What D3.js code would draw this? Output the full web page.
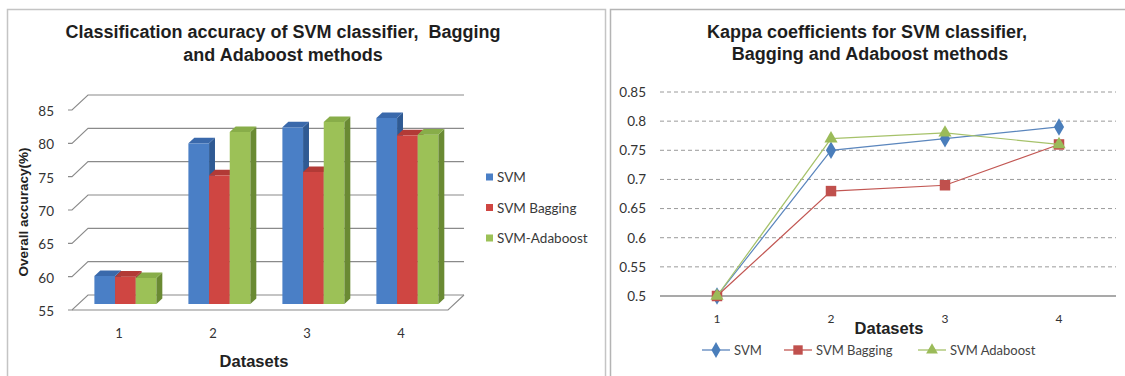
<!DOCTYPE html>
<html>
<head>
<meta charset="utf-8">
<script src="https://cdn.jsdelivr.net/npm/d3@7/dist/d3.min.js"></script>
<style>
  html, body { margin: 0; padding: 0; background: #fff; }
  svg { display: block; }
  text { font-family: Lato, "Liberation Sans", sans-serif; }
  .title { font-family: "Liberation Sans", Arial, sans-serif; font-weight: bold; font-size: 18px; fill: #1e1e1e; }
  .axisTitle { font-family: "Liberation Sans", Arial, sans-serif; font-weight: bold; fill: #222; }
</style>
</head>
<body>
<svg id="chart" width="1125" height="376"></svg>
<script>
// Datasets shown on both charts
const categories = ["1", "2", "3", "4"];

// Overall accuracy (%) per dataset
const accSVM       = [59.2, 79.1, 81.5, 82.9];
const accBagging   = [59.1, 74.3, 74.8, 80.3];
const accAdaboost  = [58.9, 80.8, 82.3, 80.4];
const accTicks     = [55, 60, 65, 70, 75, 80, 85];
const accSeriesNames = ["SVM", "SVM Bagging", "SVM-Adaboost"];

// Kappa coefficients per dataset
const kappaSVM      = [0.5, 0.75, 0.77, 0.79];
const kappaBagging  = [0.5, 0.68, 0.69, 0.76];
const kappaAdaboost = [0.5, 0.77, 0.78, 0.76];
const kappaTicks    = [0.5, 0.55, 0.6, 0.65, 0.7, 0.75, 0.8, 0.85];
const kappaSeriesNames = ["SVM", "SVM Bagging", "SVM Adaboost"];

const svg = d3.select("#chart");

// ---------- panel frames ----------
svg.append("rect").attr("x", 7.5).attr("y", 9.5).attr("width", 598).attr("height", 380)
  .attr("fill", "#fff").attr("stroke", "#c4c4c4").attr("stroke-width", 1.5);
svg.append("rect").attr("x", 610.5).attr("y", 9.5).attr("width", 530).attr("height", 380)
  .attr("fill", "#fff").attr("stroke", "#b4b4b4").attr("stroke-width", 1.5);

// =====================================================================
// Left: 3-D clustered columns of overall accuracy
// =====================================================================
const L = svg.append("g");
const depth = { dx: 16, dy: -15 };          // oblique offset of the back wall
const barFront = 0.40, barBack = 0.77;      // depth fractions occupied by bars

const yAcc = d3.scaleLinear().domain([55, 85]).range([310, 110]);
const xAcc = d3.scaleBand().domain(categories).range([72, 448]);

L.append("text").attr("class", "title").attr("x", 283).attr("y", 38)
  .attr("text-anchor", "middle").attr("xml:space", "preserve")
  .text("Classification accuracy of SVM classifier,  Bagging");
L.append("text").attr("class", "title").attr("x", 283).attr("y", 61)
  .attr("text-anchor", "middle").text("and Adaboost methods");

// back-wall gridlines with their slanted side-wall segments
const x0 = xAcc.range()[0], x1 = xAcc.range()[1];
accTicks.forEach(t => {
  const yf = yAcc(t);
  L.append("path")
    .attr("d", `M${x0 - 4},${yf} L${x0},${yf} L${x0 + depth.dx},${yf + depth.dy} L${x1 + depth.dx},${yf + depth.dy}`)
    .attr("fill", "none").attr("stroke", "#8a8a8a").attr("stroke-width", 1.1);
  L.append("text").attr("x", 54).attr("y", yf + 6)
    .attr("text-anchor", "end").attr("font-size", 13.5).attr("fill", "#333")
    .text(t);
});
// floor outline
L.append("path")
  .attr("d", `M${x0},${yAcc(55)} L${x1},${yAcc(55)} L${x1 + depth.dx},${yAcc(55) + depth.dy}`)
  .attr("fill", "none").attr("stroke", "#8a8a8a").attr("stroke-width", 1.1);

const accSeries = [accSVM, accBagging, accAdaboost];
const barColors = [
  { front: "#4a7fc6", side: "#2f5a93", top: "#3a69ab" },
  { front: "#cf4642", side: "#952d2a", top: "#b23a36" },
  { front: "#9cc157", side: "#6a8a33", top: "#88ad49" }
];
const groupW = 62;
const inner = d3.scaleBand().domain(d3.range(3)).range([0, groupW]);
const fdx = depth.dx * barFront, fdy = depth.dy * barFront;
const bdx = depth.dx * (barBack - barFront), bdy = depth.dy * (barBack - barFront);

categories.forEach((c, i) => {
  const gx = xAcc(c) + xAcc.bandwidth() / 2 - groupW / 2 + fdx;
  accSeries.forEach((vals, s) => {
    const bx = gx + inner(s), bw = inner.bandwidth();
    const yb = yAcc(55) + fdy, yt = yAcc(vals[i]) + fdy;
    const col = barColors[s];
    L.append("rect").attr("x", bx).attr("y", yt).attr("width", bw).attr("height", yb - yt)
      .attr("fill", col.front);
    L.append("path")
      .attr("d", `M${bx + bw},${yt} L${bx + bw + bdx},${yt + bdy} L${bx + bw + bdx},${yb + bdy} L${bx + bw},${yb}Z`)
      .attr("fill", col.side);
    L.append("path")
      .attr("d", `M${bx},${yt} L${bx + bdx},${yt + bdy} L${bx + bw + bdx},${yt + bdy} L${bx + bw},${yt}Z`)
      .attr("fill", col.top);
  });
  L.append("text").attr("x", xAcc(c) + xAcc.bandwidth() / 2).attr("y", 338)
    .attr("text-anchor", "middle").attr("font-size", 13).attr("fill", "#333").text(c);
});

L.append("text").attr("class", "axisTitle").attr("font-size", 16.5)
  .attr("x", 254).attr("y", 367).attr("text-anchor", "middle").text("Datasets");
L.append("text").attr("class", "axisTitle").attr("font-size", 13.5)
  .attr("transform", "translate(28,212) rotate(-90)")
  .attr("text-anchor", "middle").text("Overall accuracy(%)");

// legend
accSeriesNames.forEach((n, s) => {
  const ly = 177 + s * 30.5;
  L.append("rect").attr("x", 486).attr("y", ly - 3.5).attr("width", 7).attr("height", 7)
    .attr("fill", barColors[s].front);
  L.append("text").attr("x", 497).attr("y", ly + 5).attr("font-size", 13.5)
    .attr("fill", "#3a3a3a").text(n);
});

// =====================================================================
// Right: line chart of kappa coefficients
// =====================================================================
const R = svg.append("g");
const yK = d3.scaleLinear().domain([0.5, 0.85]).range([296, 92]);
const xK = d3.scaleBand().domain(categories).range([660, 1116]);
const cx = c => xK(c) + xK.bandwidth() / 2;

R.append("text").attr("class", "title").attr("x", 867).attr("y", 38)
  .attr("text-anchor", "middle").text("Kappa coefficients for SVM classifier,");
R.append("text").attr("class", "title").attr("x", 870).attr("y", 60)
  .attr("text-anchor", "middle").text("Bagging and Adaboost methods");

// horizontal gridlines
kappaTicks.forEach(t => {
  R.append("line").attr("x1", 660).attr("x2", 1116).attr("y1", yK(t)).attr("y2", yK(t))
    .attr("stroke", t === 0.5 ? "#8c8c8c" : "#9a9a9a")
    .attr("stroke-width", t === 0.5 ? 1.3 : 1)
    .attr("stroke-dasharray", t === 0.5 ? null : "4,3");
});

const yAxis = d3.axisLeft(yK).tickValues(kappaTicks).tickSize(0).tickPadding(0)
  .tickFormat(d3.format(""));
const ya = R.append("g").attr("transform", "translate(646,0)").call(yAxis);
ya.select(".domain").remove();
ya.selectAll("text").attr("font-size", 13.5).attr("fill", "#333")
  .attr("font-family", "Lato, 'Liberation Sans', sans-serif");

categories.forEach(c => {
  R.append("text").attr("x", cx(c)).attr("y", 323).attr("text-anchor", "middle")
    .attr("font-size", 12).attr("fill", "#333").text(c);
});
R.append("text").attr("class", "axisTitle").attr("font-size", 16.5)
  .attr("x", 889).attr("y", 334).attr("text-anchor", "middle").text("Datasets");

const kSeries = [
  { vals: kappaSVM, line: "#5b86bd", fill: "#4a7ebb", sym: d3.symbolDiamond, size: 90 },
  { vals: kappaBagging, line: "#c25753", fill: "#c0504d", sym: d3.symbolSquare, size: 110 },
  { vals: kappaAdaboost, line: "#a6c26a", fill: "#9bbb59", sym: d3.symbolTriangle, size: 75 }
];
const line = d3.line().x((d, i) => cx(categories[i])).y(d => yK(d));

kSeries.forEach(s => {
  R.append("path").datum(s.vals).attr("d", line)
    .attr("fill", "none").attr("stroke", s.line).attr("stroke-width", 1.2);
  R.selectAll(null).data(s.vals).enter().append("path")
    .attr("transform", (d, i) => `translate(${cx(categories[i])},${yK(d)})`)
    .attr("d", d3.symbol().type(s.sym).size(s.size))
    .attr("fill", s.fill);
});

// legend
const legX = [716, 798, 932];
kSeries.forEach((s, i) => {
  const lx = legX[i], ly = 350;
  R.append("line").attr("x1", lx - 14).attr("x2", lx + 14).attr("y1", ly).attr("y2", ly)
    .attr("stroke", s.line).attr("stroke-width", 1.3);
  R.append("path").attr("transform", `translate(${lx},${ly})`)
    .attr("d", d3.symbol().type(s.sym).size(s.size * 0.8)).attr("fill", s.fill);
  R.append("text").attr("x", lx + 18).attr("y", ly + 5).attr("font-size", 13)
    .attr("fill", "#444").text(kappaSeriesNames[i]);
});
</script>
</body>
</html>
